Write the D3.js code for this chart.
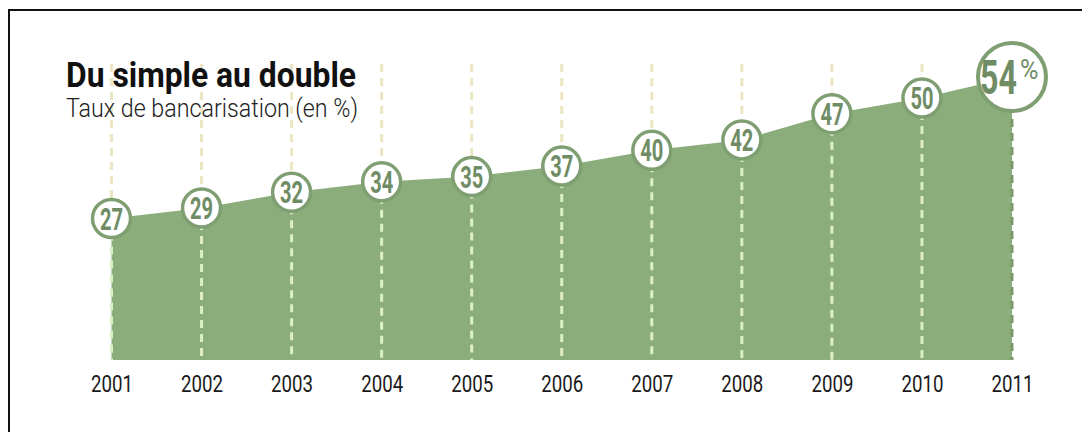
<!DOCTYPE html>
<html>
<head>
<meta charset="utf-8">
<script src="https://cdn.jsdelivr.net/npm/d3@7"></script>
<style>
  html, body { margin: 0; padding: 0; background: #fff; }
  svg { display: block; }
  text { font-family: Roboto, "Liberation Sans", sans-serif; }
</style>
</head>
<body>
<svg id="chart" width="1082" height="432"></svg>
<script>
// Taux de bancarisation, 2001-2011
const years = ["2001","2002","2003","2004","2005","2006","2007","2008","2009","2010","2011"];
const rates = [27, 29, 32, 34, 35, 37, 40, 42, 47, 50, 54];
const title = "Du simple au double";
const subtitle = "Taux de bancarisation (en %)";

const svg = d3.select("#chart");
const W = 1082, H = 432;

const fill = "#8aad7b";
const ring = "#7f9f72";
const numColor = "#6f8c65";

// frame
svg.append("path")
  .attr("d", `M9,${H} L9,10 L${W},10`)
  .attr("fill", "none").attr("stroke", "#111").attr("stroke-width", 2);

const x = d3.scalePoint().domain(years).range([111.5, 1012]);
const y = d3.scaleLinear().domain([0, 54]).range([360, 77]);

const data = years.map((yr, i) => ({ yr, v: rates[i] }));

// dashed guides above the area
svg.append("g").selectAll("line").data(data).join("line")
  .attr("x1", d => x(d.yr)).attr("x2", d => x(d.yr))
  .attr("y1", 64).attr("y2", d => y(d.v))
  .attr("stroke", "#ebe5c3").attr("stroke-width", 3)
  .attr("stroke-dasharray", "8,6");

// area
const area = d3.area()
  .x(d => x(d.yr)).y0(y(0)).y1(d => y(d.v));
svg.append("path").datum(data).attr("d", area).attr("fill", fill);

// dashed guides inside the area
svg.append("g").selectAll("line").data(data).join("line")
  .attr("x1", d => x(d.yr)).attr("x2", d => x(d.yr))
  .attr("y1", d => y(d.v)).attr("y2", y(0))
  .attr("stroke", (d, i) => i === data.length - 1 ? "#7a9a6c" : "#dcefc6")
  .attr("stroke-width", 3)
  .attr("stroke-dasharray", "8,6");

// year axis
const axis = d3.axisBottom(x).tickSize(0).tickPadding(0);
const gAxis = svg.append("g").attr("transform", `translate(0,${y(0)})`).call(axis);
gAxis.select(".domain").remove();
gAxis.selectAll("text")
  .attr("y", 32).attr("dy", 0)
  .attr("fill", "#1a1a1a")
  .attr("font-size", 24)
  .attr("font-family", "Roboto, sans-serif")
  .attr("textLength", 42).attr("lengthAdjust", "spacingAndGlyphs");

// value markers
const last = data.length - 1;
const marks = svg.append("g").selectAll("g").data(data).join("g")
  .attr("transform", d => `translate(${x(d.yr)},${y(d.v)})`);

marks.append("circle")
  .attr("r", (d, i) => i === last ? 34 : 19)
  .attr("fill", "#fff").attr("stroke", ring)
  .attr("stroke-width", (d, i) => i === last ? 4 : 3.5);

marks.filter((d, i) => i !== last).append("text")
  .attr("text-anchor", "middle").attr("y", 11)
  .attr("font-size", 31).attr("font-weight", 700)
  .attr("fill", numColor)
  .attr("textLength", 23).attr("lengthAdjust", "spacingAndGlyphs")
  .text(d => d.v);

// final year: larger badge, condensed value plus a raised percent sign
const bigMark = marks.filter((d, i) => i === last);
bigMark.append("g")
  .attr("transform", "translate(-32,17) scale(0.67,1)")
  .append("text")
  .attr("font-size", 48).attr("font-weight", 700)
  .attr("fill", numColor)
  .text(d => d.v);
bigMark.append("g")
  .attr("transform", "translate(8,2) scale(0.9,1)")
  .append("text")
  .attr("font-size", 28).attr("font-weight", 400)
  .attr("fill", numColor)
  .text("%");

// headings
svg.append("text")
  .attr("x", 66).attr("y", 87)
  .attr("font-size", 35).attr("font-weight", 700).attr("fill", "#111")
  .attr("textLength", 290).attr("lengthAdjust", "spacingAndGlyphs")
  .text(title);
svg.append("text")
  .attr("x", 66).attr("y", 117)
  .attr("font-size", 25).attr("font-weight", 300).attr("fill", "#222")
  .attr("textLength", 292).attr("lengthAdjust", "spacingAndGlyphs")
  .text(subtitle);
</script>
</body>
</html>
